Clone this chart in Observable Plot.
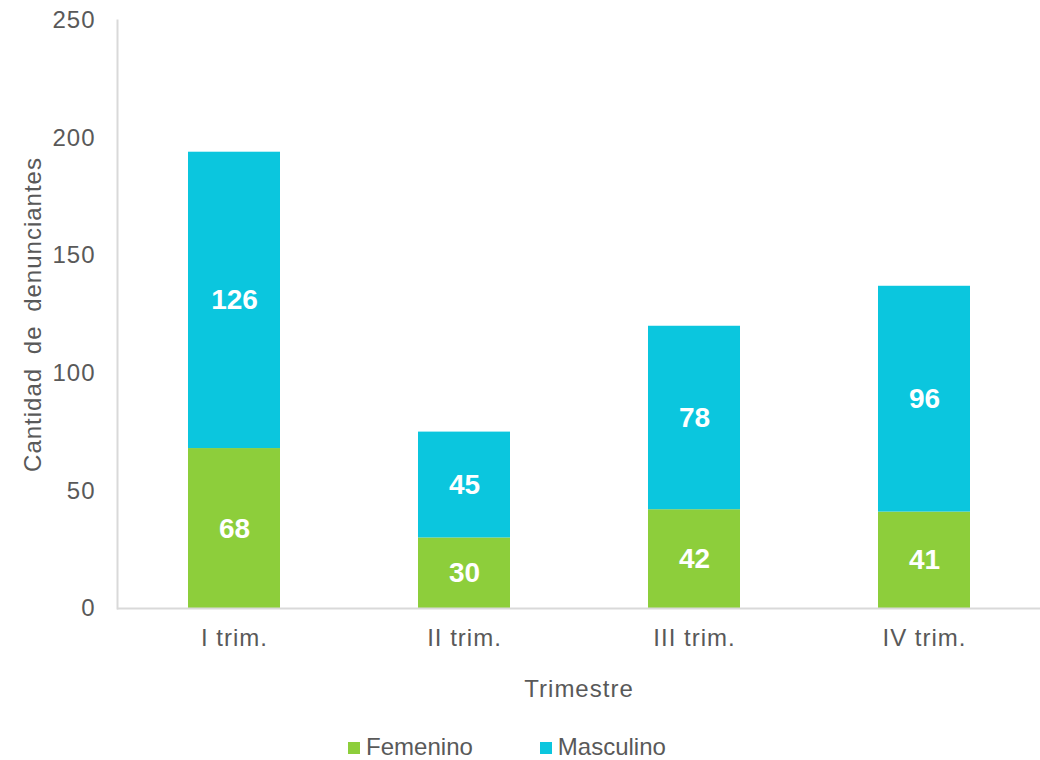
<!DOCTYPE html>
<html>
<head>
<meta charset="utf-8">
<script src="https://cdn.jsdelivr.net/npm/d3@7"></script>
<script src="https://cdn.jsdelivr.net/npm/@observablehq/plot@0.6"></script>
<style>
  body { margin: 0; background: #fff; font-family: "Liberation Sans", Arial, sans-serif; }
  #chart svg { display: block; }
  #chart svg text { letter-spacing: 1px; }
  #chart svg g[fill="white"] text { letter-spacing: 0; }
  #chart svg text[transform*="rotate"] { word-spacing: 6px; }
  .legend { display: flex; justify-content: center; gap: 67px; height: 50px; align-items: center; padding-right: 26px; font-size: 24px; color: #595959; }
  .legend span.sw { display: inline-block; width: 12px; height: 12px; margin-right: 6px; vertical-align: middle; position: relative; top: -1px; }
</style>
</head>
<body>
<div id="chart"></div>
<script>
const categories = ["I trim.", "II trim.", "III trim.", "IV trim."];
const series = ["Femenino", "Masculino"];
const femenino = [68, 30, 42, 41];
const masculino = [126, 45, 78, 96];
const colors = ["#8DCE3B", "#0BC6DE"];
const yTicks = [0, 50, 100, 150, 200, 250];

const data = [];
categories.forEach((c, i) => {
  data.push({cat: c, serie: series[0], value: femenino[i]});
  data.push({cat: c, serie: series[1], value: masculino[i]});
});

const plot = Plot.plot({
  width: 1040,
  height: 722,
  marginLeft: 117,
  marginRight: 0,
  marginTop: 20,
  marginBottom: 114,
  style: {fontFamily: "'Liberation Sans', Arial, sans-serif", fontSize: "24px", color: "#595959", background: "#fff"},
  x: {domain: categories, paddingInner: 0.6, paddingOuter: 0.3, label: null},
  y: {domain: [0, 250], label: null},
  color: {domain: series, range: colors},
  marks: [
    Plot.axisY({ticks: yTicks, tickSize: 0, tickPadding: 22, fontSize: 24, fill: "#595959", label: null}),
    Plot.axisX({tickSize: 0, tickPadding: 20, fontSize: 24, fill: "#595959", label: null}),
    Plot.text(["Cantidad de denunciantes"], {frameAnchor: "left", textAnchor: "middle", dx: -84, rotate: -90, fontSize: 24, fill: "#595959"}),
    Plot.text(["Trimestre"], {frameAnchor: "bottom", dy: 88, fontSize: 24, fill: "#595959"}),
    Plot.barY(data, {x: "cat", y: "value", fill: "serie", order: series}),
    Plot.text(data, Plot.stackY({x: "cat", y: "value", z: "serie", order: series, text: d => String(d.value), fill: "white", fontSize: 28, fontWeight: "bold"})),
    Plot.ruleY([0], {stroke: "#d9d9d9", strokeWidth: 2}),
    Plot.frame({anchor: "left", stroke: "#d9d9d9", strokeWidth: 2})
  ]
});
document.getElementById("chart").appendChild(plot);

const legend = document.createElement("div");
legend.className = "legend";
series.forEach((s, i) => {
  const item = document.createElement("div");
  item.innerHTML = `<span class="sw" style="background:${colors[i]}"></span>${s}`;
  legend.appendChild(item);
});
document.body.appendChild(legend);
</script>
</body>
</html>
